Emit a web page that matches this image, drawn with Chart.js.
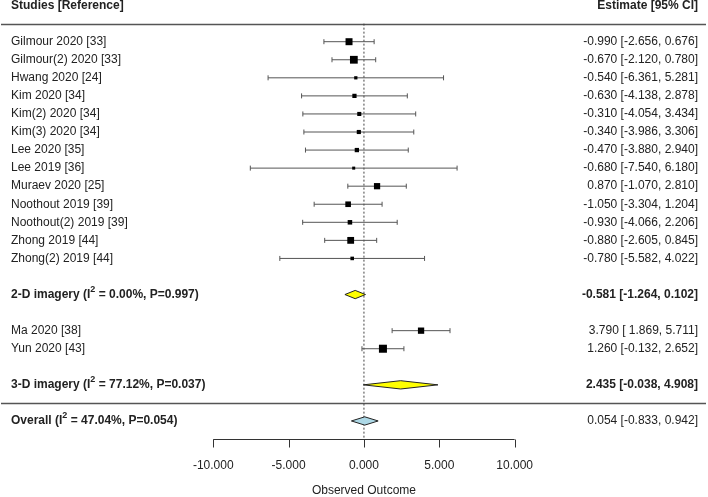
<!DOCTYPE html>
<html><head><meta charset="utf-8">
<script src="https://cdn.jsdelivr.net/npm/chart.js@4.4.1/dist/chart.umd.min.js"></script>
<style>html,body{margin:0;padding:0;background:#fff}canvas{display:block}</style>
</head><body>
<canvas id="c" width="708" height="497"></canvas>
<script>
// ---------------- data ----------------
const studies2D = ['Gilmour 2020 [33]','Gilmour(2) 2020 [33]','Hwang 2020 [24]','Kim 2020 [34]','Kim(2) 2020 [34]','Kim(3) 2020 [34]','Lee 2020 [35]','Lee 2019 [36]','Muraev 2020 [25]','Noothout 2019 [39]','Noothout(2) 2019 [39]','Zhong 2019 [44]','Zhong(2) 2019 [44]'];
const est2D   = [-0.990,-0.670,-0.540,-0.630,-0.310,-0.340,-0.470,-0.680, 0.870,-1.050,-0.930,-0.880,-0.780];
const lower2D = [-2.656,-2.120,-6.361,-4.138,-4.054,-3.986,-3.880,-7.540,-1.070,-3.304,-4.066,-2.605,-5.582];
const upper2D = [ 0.676, 0.780, 5.281, 2.878, 3.434, 3.306, 2.940, 6.180, 2.810, 1.204, 2.206, 0.845, 4.022];

const studies3D = ['Ma 2020 [38]','Yun 2020 [43]'];
const est3D   = [3.790, 1.260];
const lower3D = [1.869,-0.132];
const upper3D = [5.711, 2.652];

const summaryNames = ['2-D imagery','3-D imagery','Overall'];
const summaryI2    = ['0.00%','77.12%','47.04%'];
const summaryP     = ['0.997','0.037','0.054'];
const summaryEst   = [-0.581, 2.435, 0.054];
const summaryLower = [-1.264,-0.038,-0.833];
const summaryUpper = [ 0.102, 4.908, 0.942];

const tickValues = [-10,-5,0,5,10];
const tickLabels = ['-10.000','-5.000','0.000','5.000','10.000'];
const headerLeft = 'Studies [Reference]';
const headerRight = 'Estimate [95% CI]';
const axisTitle = 'Observed Outcome';

// ---------------- layout (row indices) ----------------
const rows2D = studies2D.map((_, i) => i);
const sum2DRow = studies2D.length + 1;
const rows3D = studies3D.map((_, i) => sum2DRow + 2 + i);
const sum3DRow = rows3D[rows3D.length - 1] + 2;
const sepRow = sum3DRow + 1;
const overallRow = sepRow + 1;
const axisRow = overallRow + 1;
const headerLineRow = -1, headerTextRow = -2;
const summaryRows = [sum2DRow, sum3DRow, overallRow];

const allNames = studies2D.concat(studies3D);
const allEst = est2D.concat(est3D);
const allLo = lower2D.concat(lower3D);
const allHi = upper2D.concat(upper3D);
const allRows = rows2D.concat(rows3D);

const FONT = '"Liberation Sans", Arial, Helvetica, sans-serif';
const TEXT = '#222';
const LINE = '#555';

// square size from precision (as metafor scales by 1/SE)
const sideOf = i => 1.75 + 4.45 * (3.92 / (allHi[i] - allLo[i]));

const datasets = [];
// squares
datasets.push({
  type: 'scatter', order: 0,
  data: allEst.map((e, i) => ({x: e, y: allRows[i]})),
  pointStyle: 'rect',
  pointRadius: allEst.map((_, i) => sideOf(i) / Math.SQRT2),
  pointHoverRadius: allEst.map((_, i) => sideOf(i) / Math.SQRT2),
  backgroundColor: '#000', borderColor: '#000', borderWidth: 0, pointBorderWidth: 0
});
// diamonds
const H = 0.23;
const diamondFill = ['#ffff00', '#ffff00', '#add8e6'];
summaryEst.forEach((e, k) => {
  const r = summaryRows[k];
  datasets.push({
    type: 'line', order: 1,
    data: [{x: summaryLower[k], y: r}, {x: e, y: r - H}, {x: summaryUpper[k], y: r}, {x: e, y: r + H}, {x: summaryLower[k], y: r}],
    borderColor: '#222', borderWidth: 1, backgroundColor: diamondFill[k],
    fill: 'shape', pointRadius: 0, tension: 0
  });
});
// confidence intervals
allEst.forEach((e, i) => {
  datasets.push({
    type: 'line', order: 2,
    data: [{x: allLo[i], y: allRows[i]}, {x: allHi[i], y: allRows[i]}],
    borderColor: LINE, borderWidth: 1, fill: false,
    pointStyle: 'line', rotation: 90, pointRadius: 2.5,
    pointBorderColor: LINE, pointBorderWidth: 1, pointBackgroundColor: LINE
  });
});
// reference line
datasets.push({
  type: 'line', order: 3,
  data: [{x: 0, y: headerLineRow}, {x: 0, y: axisRow}],
  borderColor: '#444', borderWidth: 1, borderDash: [2, 2], pointRadius: 0, fill: false
});

function richText(ctx, x, y, parts, weight) {
  let cx = x;
  ctx.textAlign = 'left';
  parts.forEach(p => {
    if (p.sup) {
      ctx.font = weight + ' 9px ' + FONT;
      ctx.fillText(p.t, cx, y - 5);
    } else {
      ctx.font = weight + ' 12px ' + FONT;
      ctx.fillText(p.t, cx, y);
    }
    cx += ctx.measureText(p.t).width;
  });
}
const fmt = v => v.toFixed(3);
const fmtL = v => (v >= 0 ? ' ' : '') + v.toFixed(3);
const ciText = (e, l, u) => `${fmt(e)} [${fmtL(l)}, ${fmt(u)}]`;

const forestText = {
  id: 'forestText',
  beforeDatasetsDraw(chart) {
    const {ctx, scales: {x, y}} = chart;
    ctx.save();
    ctx.strokeStyle = LINE; ctx.lineWidth = 1.5;
    [headerLineRow, sepRow].forEach(r => {
      const py = Math.round(y.getPixelForValue(r)) + 0.5;
      ctx.beginPath(); ctx.moveTo(1, py); ctx.lineTo(706, py); ctx.stroke();
    });
    // axis
    ctx.lineWidth = 1; ctx.strokeStyle = '#333';
    const ay = Math.round(y.getPixelForValue(axisRow)) + 0.5;
    ctx.beginPath();
    ctx.moveTo(x.getPixelForValue(tickValues[0]), ay);
    ctx.lineTo(x.getPixelForValue(tickValues[tickValues.length - 1]), ay);
    ctx.stroke();
    tickValues.forEach(v => {
      const px = Math.round(x.getPixelForValue(v)) + 0.5;
      ctx.beginPath(); ctx.moveTo(px, ay); ctx.lineTo(px, ay + 8); ctx.stroke();
    });
    ctx.restore();
  },
  afterDatasetsDraw(chart) {
    const {ctx, scales: {x, y}} = chart;
    ctx.save();
    ctx.fillStyle = TEXT;
    ctx.textBaseline = 'middle';
    // header
    ctx.font = 'bold 12px ' + FONT;
    ctx.textAlign = 'left';
    ctx.fillText(headerLeft, 11, y.getPixelForValue(headerTextRow));
    ctx.textAlign = 'right';
    ctx.fillText(headerRight, 698, y.getPixelForValue(headerTextRow));
    // studies
    allNames.forEach((n, i) => {
      const py = y.getPixelForValue(allRows[i]);
      ctx.font = '12px ' + FONT;
      ctx.textAlign = 'left';
      ctx.fillText(n, 11, py);
      ctx.textAlign = 'right';
      ctx.fillText(ciText(allEst[i], allLo[i], allHi[i]), 698, py);
    });
    // summaries
    summaryNames.forEach((n, k) => {
      const py = y.getPixelForValue(summaryRows[k]);
      richText(ctx, 11, py, [{t: n + ' (I'}, {t: '2', sup: true}, {t: ' = ' + summaryI2[k] + ', P=' + summaryP[k] + ')'}], 'bold');
      ctx.font = (k < 2 ? 'bold ' : '') + '12px ' + FONT;
      ctx.textAlign = 'right';
      ctx.fillText(ciText(summaryEst[k], summaryLower[k], summaryUpper[k]), 698, py);
    });
    // tick labels + title
    ctx.font = '12px ' + FONT;
    ctx.textAlign = 'center';
    tickValues.forEach((v, i) => ctx.fillText(tickLabels[i], x.getPixelForValue(v), y.getPixelForValue(axisRow + 1.5)));
    ctx.fillText(axisTitle, x.getPixelForValue(0), y.getPixelForValue(axisRow + 2.85));
    ctx.restore();
  }
};

new Chart(document.getElementById('c'), {
  type: 'scatter',
  data: {datasets},
  options: {
    responsive: false, devicePixelRatio: 1, animation: false,
    layout: {padding: 0, autoPadding: false},
    plugins: {legend: {display: false}, tooltip: {enabled: false}},
    events: [],
    scales: {
      x: {type: 'linear', min: -24.15, max: 22.83, display: false},
      y: {type: 'linear', min: -2.309, max: 25.21, reverse: true, display: false}
    }
  },
  plugins: [forestText]
});
</script>
</body></html>
